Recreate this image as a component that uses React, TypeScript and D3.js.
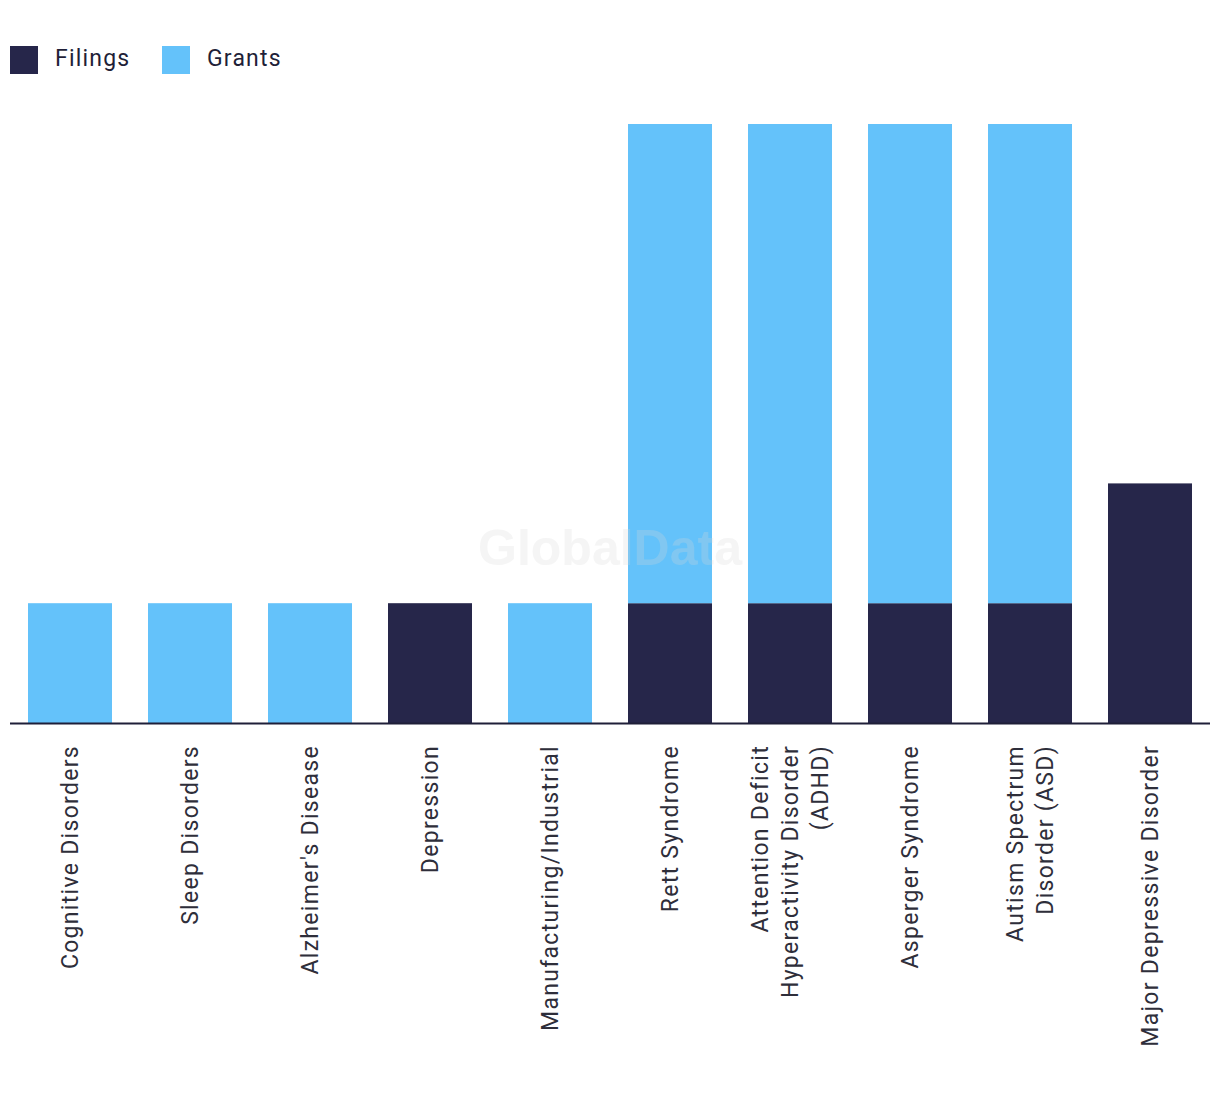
import React from "react";
import * as d3 from "d3";

const categories: string[][] = [
  ["Cognitive Disorders"],
  ["Sleep Disorders"],
  ["Alzheimer's Disease"],
  ["Depression"],
  ["Manufacturing/Industrial"],
  ["Rett Syndrome"],
  ["Attention Deficit", "Hyperactivity Disorder", "(ADHD)"],
  ["Asperger Syndrome"],
  ["Autism Spectrum", "Disorder (ASD)"],
  ["Major Depressive Disorder"],
];
const filings = [0, 0, 0, 1, 0, 1, 1, 1, 1, 2];
const grants = [1, 1, 1, 0, 1, 4, 4, 4, 4, 0];
const seriesNames = ["Filings", "Grants"];
const colors = ["#26264a", "#64c2fa"];

const W = 1204;
const H = 1080;

export default function App() {
  const keys = categories.map((c) => c.join(" "));
  const x = d3.scaleBand<string>().domain(keys).range([2, 1202]).paddingInner(0.3).paddingOuter(0.15);
  const y = d3.scaleLinear().domain([0, 5]).range([715, 116]);
  const rows = keys.map((k, i) => ({ key: k, Filings: filings[i], Grants: grants[i] }));
  const stack = d3.stack<any>().keys(seriesNames)(rows);
  const font = "Roboto, 'Liberation Sans', Arial, sans-serif";
  return (
    <svg width={W} height={H} style={{ display: "block" }}>
      <rect width={W} height={H} fill="#fff" />
      {seriesNames.map((s, i) => (
        <g key={s} transform={`translate(${2 + i * 152},38)`}>
          <rect width={28} height={28} fill={colors[i]} />
          <text x={45} y={20} fontSize={23} letterSpacing={1.2} fontFamily={font} fill="#1f1f38">{s}</text>
        </g>
      ))}
      {stack.map((layer, li) => (
        <g key={layer.key} fill={colors[li]}>
          {layer.map((d, i) =>
            d[1] - d[0] > 0 ? (
              <rect key={i} x={x(keys[i])} width={x.bandwidth()} y={y(d[1])} height={y(d[0]) - y(d[1])} />
            ) : null
          )}
        </g>
      ))}
      <text x={602} y={557} textAnchor="middle" fontSize={50} fontWeight="bold" fontFamily="'Liberation Sans', Arial, sans-serif" fill="#d8d8d8" opacity={0.25}>GlobalData</text>
      <line x1={2} x2={1202} y1={715.5} y2={715.5} stroke="#1f1f38" strokeWidth={2} />
      {categories.map((lines, i) => {
        const cx = (x(keys[i]) as number) + x.bandwidth() / 2;
        const n = lines.length;
        return (
          <g key={i} transform={`translate(${cx},737) rotate(-90)`}>
            {lines.map((l, j) => (
              <text key={j} x={0} y={(j - (n - 1) / 2) * 30 + 8} textAnchor="end" fontSize={23} letterSpacing={1.3} fontFamily={font} fill="#2e2e3a">{l}</text>
            ))}
          </g>
        );
      })}
    </svg>
  );
}
